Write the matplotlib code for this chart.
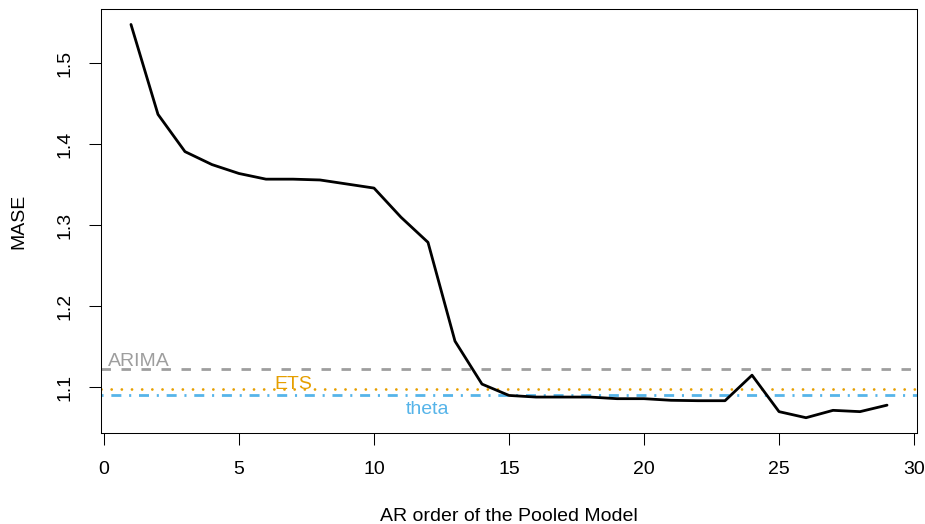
import numpy as np
import matplotlib
matplotlib.use("Agg")
import matplotlib.pyplot as plt

plt.rcParams['font.family'] = ['Liberation Sans', 'DejaVu Sans']

# MASE of the pooled AR model for each lag order
ar_order = np.arange(1, 30)
mase = [1.548, 1.437, 1.391, 1.375, 1.364, 1.357, 1.357, 1.356, 1.351, 1.346,
        1.310, 1.279, 1.157, 1.104, 1.090, 1.088, 1.088, 1.088, 1.086, 1.086,
        1.084, 1.0835, 1.0835, 1.115, 1.070, 1.0625, 1.0716, 1.070, 1.078]

# benchmark methods drawn as horizontal references
bench_names = ['ARIMA', 'ETS', 'theta']
bench_values = [1.123, 1.0979, 1.0909]
bench_colors = ['#9E9E9E', '#E69F00', '#56B4E9']
bench_dashes = [(3.4, 3.8), (0.01, 3.65), (0.75, 2.8, 3.6, 2.8)]
bench_caps = ['butt', 'round', 'butt']
label_x = [1.3, 7.0, 12.0]
label_dy = [2.0, 0.0, -13.9]   # baseline offset (points) from the line

fig = plt.figure(figsize=(9.25, 5.24), dpi=100)
ax = fig.add_axes([101 / 925, 1 - 432.7 / 524, 816 / 925, 423.4 / 524])

ax.plot(ar_order, mase, color='black', lw=2,
        solid_capstyle='round', solid_joinstyle='round', zorder=3)

for name, val, col, dsh, cap, lx, dy in zip(bench_names, bench_values, bench_colors,
                                            bench_dashes, bench_caps, label_x, label_dy):
    ax.axhline(val, color=col, lw=2, dashes=dsh, dash_capstyle=cap, zorder=2)
    ax.annotate(name, (lx, val), xytext=(0, dy), textcoords='offset points',
                ha='center', va='baseline', color=col, fontsize=14)

ax.set_xlim(-0.11, 30.11)
ax.set_ylim(1.044, 1.5667)
ax.set_xticks(np.arange(0, 31, 5))
ax.set_yticks([1.1, 1.2, 1.3, 1.4, 1.5])
ax.set_yticklabels(['1.1', '1.2', '1.3', '1.4', '1.5'], rotation=90, va='center')

ax.tick_params(axis='both', direction='out', length=8.6, width=0.75,
               labelsize=14, color='black')
ax.tick_params(axis='x', pad=12)
ax.tick_params(axis='y', pad=11.5)
for s in ax.spines.values():
    s.set_linewidth(0.75)
    s.set_color('black')

ax.set_xlabel('AR order of the Pooled Model', fontsize=14, labelpad=21.5)
ax.set_ylabel('MASE', fontsize=14, labelpad=20.5)

fig.savefig('out.png', dpi=100)
